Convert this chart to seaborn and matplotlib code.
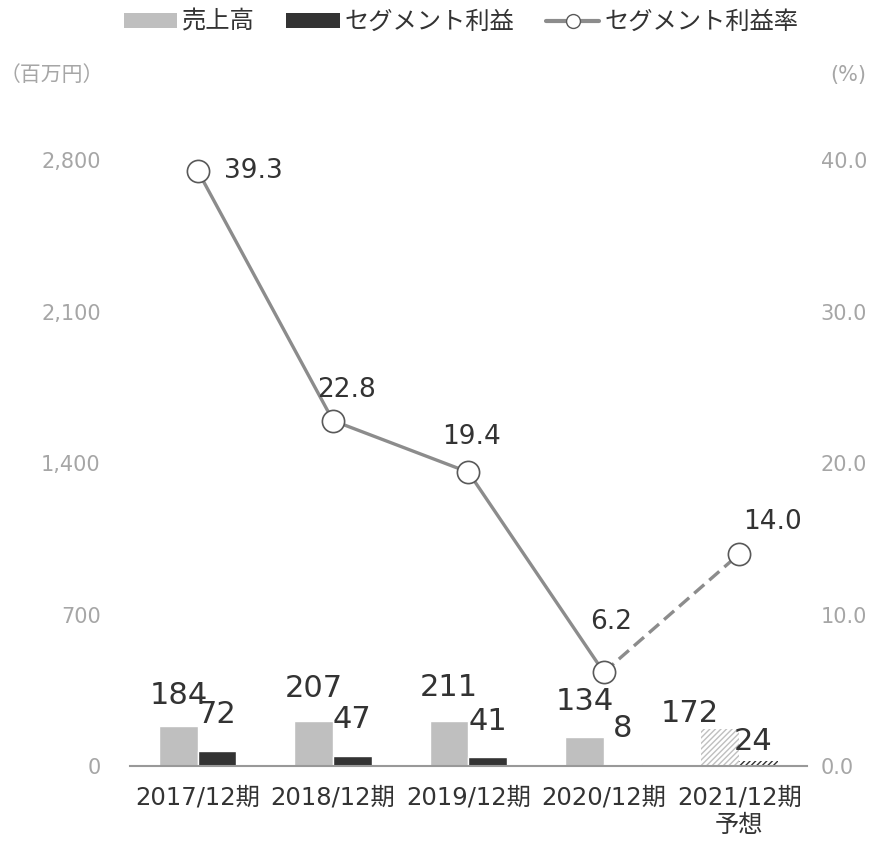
import numpy as np
import pandas as pd

import seaborn as sns
import matplotlib.pyplot as plt
from matplotlib.patches import Patch
from matplotlib.lines import Line2D


periods = ["2017/12期", "2018/12期", "2019/12期", "2020/12期", "2021/12期\n予想"]
sales = [184, 207, 211, 134, 172]
profit = [72, 47, 41, 8, 24]
margin = [39.3, 22.8, 19.4, 6.2, 14.0]

series_names = ["売上高", "セグメント利益", "セグメント利益率"]
left_ticks = [0, 700, 1400, 2100, 2800]
right_ticks = [0, 10, 20, 30, 40]

sns.set_style("white")
plt.rcParams["font.family"] = ["DejaVu Sans", "Noto Sans CJK JP"]

GRAY = "#bfbfbf"
DARK = "#333333"
LINE = "#8c8c8c"
TICK = "#a6a6a6"
TEXT = "#333333"

df = pd.DataFrame({
    "period": periods * 2,
    "value": sales + profit,
    "series": [series_names[0]] * 5 + [series_names[1]] * 5,
})

fig = plt.figure(figsize=(8.78, 8.42), dpi=100)
ax = fig.add_axes([0.148, 0.090, 0.771, 0.720])

sns.barplot(
    data=df,
    x="period",
    y="value",
    hue="series",
    palette=[GRAY, DARK],
    width=0.57,
    gap=0,
    saturation=1,
    legend=False,
    ax=ax,
)

# forecast year: hatched bars
for cont, col in zip(ax.containers, [GRAY, DARK]):
    bar = cont[4]
    bar.set_facecolor("white")
    bar.set_edgecolor(col)
    bar.set_hatch("//////")
    bar.set_linewidth(0)

# bar value labels (label offsets in points)
sales_off = [(0, 22), (0, 24), (0, 24), (0, 26), (-22, 11)]
profit_off = [(0, 26), (0, 26), (0, 26), (0, 26), (-4, 14)]
for cont, vals, offs in zip(ax.containers, [sales, profit], [sales_off, profit_off]):
    for bar, v, off in zip(cont, vals, offs):
        ax.annotate(
            str(v),
            (bar.get_x() + bar.get_width() / 2, bar.get_height()),
            xytext=off,
            textcoords="offset points",
            ha="center",
            va="center",
            fontsize=22,
            color=TEXT,
        )

ax.set_ylim(0, 2800)
ax.set_xlim(-0.5, 4.5)
ax.set_yticks(left_ticks)
ax.set_yticklabels([f"{t:,}" for t in left_ticks])
ax.set_xlabel("")
ax.set_ylabel("")
ax.tick_params(axis="y", length=0, pad=21, labelsize=15, labelcolor=TICK)
ax.tick_params(axis="x", length=0, pad=14, labelsize=17.5, labelcolor=TEXT)
for s in ["top", "right", "left"]:
    ax.spines[s].set_visible(False)
ax.spines["bottom"].set_color("#999999")
ax.spines["bottom"].set_linewidth(1.5)

# profit margin line on secondary axis
ax2 = ax.twinx()
xs = np.arange(len(margin))
sns.lineplot(x=xs[:4], y=margin[:4], color=LINE, linewidth=2.4, ax=ax2)
sns.lineplot(x=xs[3:], y=margin[3:], color=LINE, linewidth=2.4,
             linestyle=(0, (4, 2)), ax=ax2)
ax2.plot(xs, margin, linestyle="none", marker="o", markersize=16,
         markerfacecolor="white", markeredgecolor="#595959",
         markeredgewidth=1.2, clip_on=False, zorder=5)

offsets = [(40, 0), (10, 22), (2, 25), (5, 36), (24, 23)]
for x, m, off in zip(xs, margin, offsets):
    ax2.annotate(
        f"{m:.1f}",
        (x, m),
        xytext=off,
        textcoords="offset points",
        ha="center",
        va="center",
        fontsize=19,
        color=TEXT,
    )

ax2.set_ylim(0, 40)
ax2.set_xlim(-0.5, 4.5)
ax2.set_yticks(right_ticks)
ax2.set_yticklabels([f"{t:.1f}" for t in right_ticks])
ax2.tick_params(axis="y", length=0, pad=10, labelsize=15, labelcolor=TICK)
for s in ["top", "right", "left", "bottom"]:
    ax2.spines[s].set_visible(False)

# units
fig.text(0.0, 0.911, "（百万円）", fontsize=15, color=TICK, ha="left", va="center")
fig.text(0.946, 0.911, "(%)", fontsize=15, color=TICK, ha="left", va="center")

handles = [
    Patch(facecolor=GRAY, edgecolor="none"),
    Patch(facecolor=DARK, edgecolor="none"),
    Line2D([0], [0], color=LINE, linewidth=3, marker="o", markersize=10,
           markerfacecolor="white", markeredgecolor="#595959"),
]
fig.legend(
    handles,
    series_names,
    loc="center",
    bbox_to_anchor=(0.525, 0.974),
    ncol=3,
    frameon=False,
    fontsize=17.5,
    handlelength=2.2,
    handleheight=0.6,
    handletextpad=0.2,
    columnspacing=1.3,
    labelcolor=TEXT,
)

plt.savefig("out.png", dpi=100)
plt.close()
